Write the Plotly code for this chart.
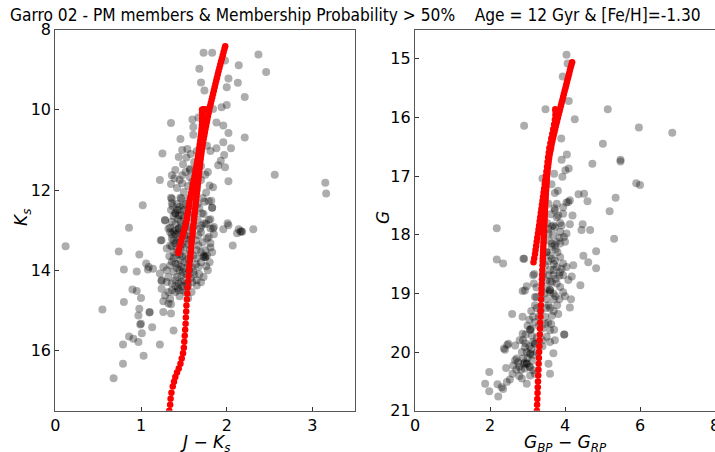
import plotly.graph_objects as go

# ---------------- data ----------------
# Left panel: colour-magnitude diagram, members (J-Ks, Ks)
left_members = [
    (1.73,8.58),(1.83,8.58),(2.37,8.62),(1.98,8.77),(2.14,8.89),(2.46,9.06),(1.68,8.98),
    (2.02,9.22),(1.70,9.32),(2.13,9.33),(2.00,9.44),(1.74,9.52),(2.21,9.68),(2.00,9.88),
    (1.94,9.94),(1.84,9.98),(1.67,10.19),(1.60,10.24),(1.73,10.18),(1.35,10.33),(1.88,10.32),
    (1.61,10.43),(1.96,10.39),(2.02,10.58),(1.61,10.62),(2.21,10.69),(1.46,10.73),(1.96,10.81),
    (1.48,11.0),(1.54,10.98),(1.77,10.9),(1.88,10.96),(2.05,10.96),(1.81,11.03),(1.25,11.09),
    (1.65,11.03),(1.97,11.13),(1.44,11.18),(1.53,11.19),(1.93,11.27),(1.49,11.36),(1.90,11.38),
    (1.98,11.43),(1.57,11.47),(2.56,11.62),(3.15,11.82),(3.16,12.09),(2.02,11.78),(1.22,11.75),
    (1.02,12.38),(1.36,11.63),(1.39,11.71),(1.48,11.63),(1.48,11.83),(1.57,11.68),(1.57,11.5),
    (1.75,11.62),(1.80,11.89),(1.84,11.93),(1.76,12.06),(1.35,12.19),(1.47,12.21),(1.36,12.33),
    (1.82,12.27),(1.49,12.38),(1.42,12.5),(1.83,12.44),(1.71,12.58),(1.44,12.63),(1.28,12.76),
    (1.81,12.73),(1.74,12.83),(2.01,12.83),(0.86,12.94),(1.34,12.94),(1.84,12.96),(1.96,12.98),
    (2.14,12.98),(2.17,13.03),(2.31,12.98),(1.79,13.17),(1.23,13.25),(2.07,13.38),(1.81,13.43),
    (0.74,13.53),(0.98,13.61),(1.30,13.46),(1.73,13.63),(0.12,13.4),(0.80,13.98),(0.95,14.03),
    (1.06,13.83),(1.09,13.92),(1.08,13.98),(1.14,13.96),(0.90,14.48),(0.95,14.52),(1.00,14.69),
    (0.80,14.79),(0.55,14.98),(0.98,14.96),(0.97,15.13),(1.10,15.04),(1.10,15.05),(1.26,15.04),
    (1.35,15.08),(1.26,14.77),(1.32,14.83),(1.00,15.33),(0.99,15.35),(1.01,15.57),(1.13,15.42),
    (1.38,15.5),(0.86,15.65),(0.91,15.71),(0.97,15.79),(0.79,15.85),(1.22,15.85),(1.03,16.13),
    (0.79,16.33),(0.68,16.69),(1.24,14.27),(1.28,12.75),(2.02,12.88),(2.12,13.08),(2.16,13.04),
    (2.18,13.04),(1.85,12.92),(1.81,13.33),(1.75,13.67),(1.75,13.67),
    (1.36,12.22),(1.46,12.19),(1.55,12.22),(1.74,12.29),(1.79,12.28),(1.83,12.44),(1.44,12.5),
    (1.47,12.63),(1.40,12.58),(1.40,12.58),(1.36,12.79),(1.79,12.75),(1.71,12.88),(1.81,12.96),
    (1.32,12.96),(1.38,13.04),(1.44,12.96),(1.44,12.96),(1.24,13.25),(1.36,13.21),(1.40,13.33),
    (1.34,13.38),(1.42,13.46),(1.77,13.21),(1.75,13.5),(1.67,13.38),(1.67,13.13),(1.61,13.63),
    (1.65,13.71),(1.73,13.67),(1.77,13.63),(1.46,13.75),(1.51,13.79),(1.40,13.83),(1.34,13.88),
    (1.47,13.92),(1.26,13.92),(1.22,14.08),(1.38,14.04),(1.42,14.17),(1.32,14.17),(1.47,14.13),
    (1.36,14.33),(1.44,14.33),(1.30,14.29),(1.24,14.25),(1.61,14.04),(1.65,14.25),(1.73,14.17),
    (1.65,14.38),(1.59,13.92),(1.67,13.92),(1.24,14.46),(1.28,14.63),(1.34,14.71),(1.32,14.54),
    (1.40,14.54),(1.44,14.5),(1.49,14.5),(1.59,14.54),(1.55,14.38),
    (1.38,12.65),(1.43,12.72),(1.50,12.70),(1.52,12.85),(1.47,12.9),(1.40,13.0),(1.49,13.05),
    (1.55,13.0),(1.45,13.15),(1.52,13.2),(1.58,13.15),(1.42,13.28),(1.48,13.35),(1.55,13.35),
    (1.38,13.55),(1.45,13.6),(1.52,13.6),(1.57,13.5),(1.38,13.7),(1.43,13.85),(1.55,13.85),
    (1.50,13.95),(1.45,14.0),(1.53,14.1),(1.58,14.2),(1.50,14.25),(1.40,14.4),(1.48,14.4),
    (1.35,12.5),(1.50,12.5),(1.62,12.6),(1.66,12.75),(1.62,12.9),(1.70,13.05),(1.72,13.3),
    (1.65,13.5),(1.70,13.8),(1.62,14.1),(1.70,14.3),(1.78,14.0),(1.80,13.8),(1.40,13.1),
    (1.33,13.65),(1.30,14.0),(1.36,14.5),(1.45,14.65),(1.55,14.7),(1.35,14.85),(1.40,12.85),
    (1.58,12.4),(1.52,12.35),(1.42,12.35),(1.68,12.45),(1.72,12.2),(1.65,12.0),(1.55,11.9),
    (1.42,11.95),(1.35,11.85),(1.60,11.8),(1.70,11.75),(1.78,11.55),(1.40,11.5),(1.62,11.3),
    (1.70,11.4),(1.58,11.1),(1.85,13.1),(1.83,13.55),(1.76,13.9),(1.36,13.1),(1.46,13.45),
    (1.37,12.40),(1.45,12.42),(1.53,12.55),(1.58,12.68),(1.46,12.78),(1.56,12.92),(1.34,13.05),
    (1.43,13.08),(1.51,13.12),(1.56,13.25),(1.38,13.25),(1.45,13.30),(1.50,13.42),(1.36,13.40),
    (1.41,13.62),(1.48,13.66),(1.55,13.72),(1.36,13.78),(1.42,13.95),(1.49,14.05),(1.56,14.00),
    (1.40,14.25),(1.47,14.30),(1.53,14.35),(1.43,14.45),(1.52,14.55),(1.60,14.30),(1.68,14.10),
    (1.64,13.85),(1.70,13.55),(1.64,13.25),(1.69,12.95),(1.76,12.85),(1.73,12.60),(1.66,12.35),
    (1.50,12.05),(1.45,11.75),(1.52,11.55),
]

# Right panel: Gaia colour-magnitude diagram, members (BP-RP, G)
right_members = [
    (4.04,14.93),(4.07,15.08),(3.94,15.30),(4.10,15.72),(3.48,15.86),(5.14,15.86),(4.26,16.03),
    (2.91,16.14),(5.97,16.17),(6.86,16.26),(3.90,16.36),(5.01,16.45),(3.61,16.54),(4.05,16.63),
    (3.91,16.72),(5.48,16.72),(5.48,16.75),(4.73,16.79),(4.10,16.87),(4.01,16.90),(3.71,16.96),
    (3.40,17.04),(3.93,17.01),(5.90,17.12),(6.00,17.15),(3.64,17.14),(3.81,17.25),(3.73,17.29),
    (4.36,17.31),(4.51,17.30),(5.35,17.37),(4.60,17.43),(4.13,17.41),(4.04,17.45),(3.72,17.55),
    (3.95,17.53),(5.19,17.60),(2.18,17.89),(3.78,17.47),(4.20,17.67),
    (4.47,17.82),(4.67,17.92),(4.44,17.92),(4.13,17.82),(3.91,17.84),(3.69,17.84),(4.83,18.28),
    (4.49,18.36),(4.62,18.47),(4.83,18.57),(4.22,18.52),(4.41,18.86),(2.18,18.42),(2.35,18.49),
    (2.91,18.41),(2.89,18.41),(3.18,18.67),(2.98,18.88),(2.87,18.96),(4.16,19.10),(4.13,19.24),
    (2.59,19.35),(2.87,19.40),(3.98,19.70),(3.98,19.70),(5.31,18.07),
    (3.56,17.47),(3.73,17.58),(3.82,17.67),(3.95,17.64),(4.09,17.44),(3.87,17.80),(3.73,17.87),
    (3.65,17.86),(3.56,17.98),(3.87,17.95),(3.97,18.04),(4.04,17.98),(3.78,18.12),(3.87,18.15),
    (3.65,18.21),(3.73,18.18),(4.00,18.12),(3.51,18.30),(3.51,18.30),(3.60,18.35),(3.65,18.41),
    (3.73,18.44),(3.87,18.38),(3.95,18.49),(3.47,18.52),(3.78,18.55),(3.91,18.58),(4.04,18.55),
    (3.42,18.67),(3.56,18.69),(3.69,18.69),(3.87,18.64),(3.95,18.69),(4.18,18.71),(4.09,18.77),
    (3.51,18.78),(3.65,18.81),(3.78,18.83),(3.51,18.92),(3.60,18.94),(3.60,18.94),(3.87,18.89),
    (3.95,18.98),(3.69,19.00),(3.24,19.06),(3.15,18.69),(3.17,18.83),(3.24,18.90),(2.93,18.95),
    (3.20,19.06),(3.60,18.98),(4.00,19.05),(3.56,19.20),(3.79,19.20),(3.82,19.35),(3.65,19.38),
    (3.15,19.40),(3.20,19.49),(3.47,19.40),(3.47,19.52),(3.63,19.52),(3.07,19.62),(3.07,19.62),
    (3.60,19.63),(3.71,19.62),(2.87,19.69),(2.79,19.80),(2.88,19.80),(3.15,19.83),(3.20,19.86),
    (3.20,19.86),(3.51,19.74),(3.60,19.83),(3.73,19.80),(2.49,19.86),(2.40,19.96),(2.67,19.89),
    (2.93,19.92),(2.98,20.00),(3.07,20.03),(3.07,20.03),(3.69,20.02),(2.71,20.11),(2.88,20.11),
    (2.67,20.14),(2.75,20.18),(2.93,20.18),(2.98,20.20),(2.98,20.20),(2.62,20.23),(2.83,20.30),
    (2.93,20.28),(3.07,20.26),(3.15,20.31),(3.56,20.20),(3.60,20.37),(2.43,20.27),(2.53,20.47),
    (2.45,20.51),(2.31,20.60),(2.35,20.63),(1.98,20.34),(1.87,20.54),(1.98,20.67),(2.22,20.76),
    (2.98,20.54),(3.07,20.40),(3.20,20.37),(2.20,20.55),(2.60,20.37),(2.78,20.41),(2.37,19.94),
    (2.46,19.88),
    (3.25,19.25),(3.35,19.30),(3.10,19.30),(3.30,19.55),(3.40,19.60),(3.00,19.55),(3.12,19.72),
    (3.25,19.75),(2.95,19.70),(3.05,19.90),(3.15,20.05),(2.85,20.00),(3.00,20.10),(3.12,20.15),
    (2.78,20.25),(3.40,19.90),(3.55,19.50),(3.70,19.10),(3.50,19.10),(3.45,19.00),(3.60,18.60),
    (3.70,18.50),(3.75,18.75),(3.80,18.30),(3.58,18.10),(3.68,18.00),(3.78,17.70),(3.62,17.65),
    (3.52,17.80),
    (3.30,19.40),(3.20,19.20),(3.05,19.45),(2.95,19.85),(3.10,19.95),(2.90,20.20),(3.05,20.25),
    (2.70,20.30),(2.85,20.45),(3.50,19.25),(3.60,19.25),(3.70,19.30),(3.75,19.05),(3.85,19.10),
    (3.60,18.80),(3.70,18.60),(3.85,18.70),(3.55,18.45),(3.75,18.25),(3.65,18.15),(3.85,18.05),
    (3.55,17.90),(3.40,19.80),(3.25,20.00),(3.10,19.60),
]

# Isochrone (12 Gyr, [Fe/H]=-1.30), (J-Ks, Ks): RGB then AGB
iso_left_rgb = [
    (1.33,17.50),(1.34,17.35),(1.345,17.20),(1.355,17.05),(1.37,16.90),(1.385,16.78),(1.40,16.66),
    (1.42,16.55),(1.44,16.45),(1.46,16.33),(1.475,16.20),(1.49,16.07),(1.50,15.93),(1.505,15.78),
    (1.51,15.63),(1.515,15.48),(1.52,15.33),(1.523,15.18),(1.527,15.03),(1.53,14.88),(1.535,14.73),
    (1.54,14.58),(1.545,14.43),(1.55,14.28),(1.555,14.14),(1.56,14.00),(1.565,13.88),(1.57,13.76),
    (1.575,13.68),(1.578,13.60),(1.582,13.52),(1.585,13.44),(1.588,13.36),(1.592,13.28),(1.595,13.20),
    (1.600,13.12),(1.603,13.04),(1.607,12.96),(1.611,12.88),(1.615,12.80),(1.619,12.72),(1.623,12.64),
    (1.627,12.56),(1.631,12.48),(1.635,12.40),(1.639,12.32),(1.643,12.24),(1.647,12.16),(1.651,12.08),
    (1.655,12.00),(1.660,11.92),(1.664,11.84),(1.668,11.76),(1.672,11.68),(1.676,11.60),(1.680,11.52),
    (1.684,11.44),(1.688,11.36),(1.692,11.28),(1.697,11.20),(1.702,11.12),(1.707,11.04),(1.712,10.96),
    (1.718,10.88),(1.724,10.80),(1.731,10.72),(1.738,10.64),(1.745,10.56),(1.752,10.48),(1.759,10.40),
    (1.766,10.32),(1.773,10.24),(1.780,10.16),(1.788,10.08),(1.796,10.00),(1.805,9.92),(1.814,9.84),
    (1.823,9.76),(1.832,9.68),(1.841,9.60),(1.850,9.52),(1.859,9.44),(1.868,9.36),(1.877,9.28),
    (1.886,9.20),(1.895,9.12),(1.904,9.04),(1.914,8.96),(1.924,8.88),(1.934,8.80),(1.944,8.72),
    (1.954,8.64),(1.964,8.56),(1.974,8.48),(1.982,8.42),
]
iso_left_agb = [
    (1.435,13.57),(1.44,13.50),(1.45,13.42),(1.46,13.34),(1.47,13.26),(1.48,13.18),(1.49,13.10),
    (1.50,13.02),(1.51,12.94),(1.52,12.86),(1.53,12.78),(1.535,12.70),(1.54,12.62),(1.55,12.54),
    (1.555,12.46),(1.56,12.38),(1.565,12.30),(1.572,12.22),(1.58,12.14),(1.587,12.06),(1.595,11.98),
    (1.602,11.90),(1.61,11.82),(1.618,11.74),(1.625,11.66),(1.632,11.58),(1.638,11.50),(1.645,11.42),
    (1.652,11.34),(1.658,11.26),(1.664,11.18),(1.67,11.10),(1.676,11.02),(1.681,10.94),(1.686,10.86),
    (1.691,10.78),(1.696,10.70),(1.700,10.62),(1.704,10.54),(1.708,10.46),(1.711,10.38),(1.713,10.30),
    (1.714,10.22),(1.714,10.14),(1.713,10.06),(1.712,10.00),(1.725,9.99),(1.74,9.99),(1.755,10.00),
    (1.77,10.00),
]

# Isochrone, (BP-RP, G): RGB then AGB
iso_right_rgb = [
    (3.25,21.00),(3.256,20.90),(3.262,20.80),(3.268,20.70),(3.274,20.60),(3.28,20.50),(3.286,20.40),
    (3.292,20.30),(3.298,20.20),(3.304,20.10),(3.31,20.00),(3.316,19.90),(3.322,19.80),(3.328,19.70),
    (3.334,19.60),(3.34,19.50),(3.346,19.40),(3.352,19.30),(3.358,19.20),(3.364,19.10),(3.37,19.00),
    (3.375,18.92),(3.38,18.84),(3.385,18.76),(3.39,18.68),(3.395,18.60),(3.40,18.52),
    (3.405,18.45),(3.408,18.40),(3.412,18.35),(3.415,18.30),(3.419,18.25),(3.422,18.20),(3.426,18.15),
    (3.429,18.10),(3.433,18.05),(3.436,18.00),(3.44,17.95),(3.443,17.90),(3.447,17.85),(3.45,17.80),
    (3.454,17.75),(3.457,17.70),(3.461,17.65),(3.464,17.60),(3.467,17.55),(3.47,17.50),(3.475,17.45),
    (3.48,17.40),(3.485,17.35),(3.49,17.30),(3.495,17.25),(3.50,17.20),(3.505,17.15),(3.51,17.10),
    (3.515,17.05),(3.52,17.00),(3.527,16.95),(3.535,16.90),(3.544,16.85),(3.553,16.80),(3.563,16.75),
    (3.574,16.70),(3.585,16.65),(3.597,16.60),(3.613,16.55),(3.63,16.50),(3.645,16.45),(3.662,16.40),
    (3.68,16.35),(3.698,16.30),(3.716,16.25),(3.734,16.20),(3.753,16.15),(3.772,16.10),(3.791,16.05),
    (3.81,16.00),(3.83,15.95),(3.85,15.90),(3.87,15.85),(3.89,15.80),(3.91,15.75),(3.93,15.70),
    (3.95,15.65),(3.97,15.60),(3.99,15.55),(4.01,15.50),(4.03,15.45),(4.05,15.40),(4.07,15.35),
    (4.09,15.30),(4.11,15.25),(4.13,15.20),(4.15,15.15),(4.17,15.10),(4.19,15.06),
]
iso_right_agb = [
    (3.16,18.47),(3.18,18.40),(3.20,18.33),(3.215,18.26),(3.23,18.19),(3.245,18.12),(3.26,18.05),
    (3.28,17.98),(3.295,17.91),(3.31,17.84),(3.325,17.77),(3.34,17.70),(3.355,17.63),(3.37,17.56),
    (3.385,17.49),(3.40,17.42),(3.415,17.35),(3.43,17.28),(3.445,17.21),(3.46,17.14),(3.475,17.07),
    (3.49,17.00),(3.505,16.92),(3.52,16.84),(3.535,16.76),(3.55,16.68),(3.567,16.60),(3.585,16.52),
    (3.61,16.44),(3.635,16.36),(3.66,16.28),(3.685,16.20),(3.71,16.12),(3.73,16.04),(3.745,15.96),
    (3.75,15.90),(3.74,15.86),(3.77,15.88),(3.80,15.89),
]

title_text = ("Garro 02 - PM members & Membership Probability > 50%"
              "\u00a0\u00a0\u00a0\u00a0Age = 12 Gyr & [Fe/H]=-1.30")
left_xticks = [0, 1, 2, 3]
left_yticks = [8, 10, 12, 14, 16]
right_xticks = [0, 2, 4, 6, 8]
right_yticks = [15, 16, 17, 18, 19, 20, 21]

# ---------------- figure ----------------
W, H = 715, 452
FONT = "DejaVu Sans"
TITLE_FONT = "DejaVu Sans Condensed, Liberation Sans Narrow, DejaVu Sans"

def xs(pts):
    return [p[0] for p in pts]

def ys(pts):
    return [p[1] for p in pts]

gray = dict(color="black", opacity=0.32, size=8, line=dict(width=0))
red = dict(color="red", size=6.5, line=dict(width=0))

fig = go.Figure()
fig.add_trace(go.Scatter(x=xs(left_members), y=ys(left_members), mode="markers",
                         marker=gray, xaxis="x", yaxis="y", showlegend=False))
iso_l = iso_left_rgb + iso_left_agb
fig.add_trace(go.Scatter(x=xs(iso_l), y=ys(iso_l), mode="markers",
                         marker=red, xaxis="x", yaxis="y", showlegend=False))
fig.add_trace(go.Scatter(x=xs(right_members), y=ys(right_members), mode="markers",
                         marker=gray, xaxis="x2", yaxis="y2", showlegend=False))
iso_r = iso_right_rgb + iso_right_agb
fig.add_trace(go.Scatter(x=xs(iso_r), y=ys(iso_r), mode="markers",
                         marker=red, xaxis="x2", yaxis="y2", showlegend=False))

y_dom = [(H - 410.7) / H, (H - 29.5) / H]
axis_common = dict(showline=True, mirror=True, linecolor="#555555", linewidth=1.2,
                   ticks="inside", ticklen=4, tickwidth=1, tickcolor="#333333",
                   showgrid=False, zeroline=False, ticklabeloverflow="allow",
                   automargin=False,
                   tickfont=dict(family=FONT, size=16, color="black"))

label_font = dict(family=FONT, size=17, color="black")

fig.update_layout(
    width=W, height=H, autosize=False,
    margin=dict(l=0, r=0, t=0, b=0, autoexpand=False),
    paper_bgcolor="white", plot_bgcolor="white",
    xaxis=dict(domain=[55.3 / W, 355.3 / W], range=[0, 3.5], tickvals=left_xticks,
               anchor="y", ticklabelstandoff=0, **axis_common),
    yaxis=dict(domain=y_dom, range=[17.5, 8], tickvals=left_yticks, anchor="x",
               **axis_common),
    xaxis2=dict(domain=[415 / W, 1.0], range=[0, 8], tickvals=right_xticks,
                anchor="y2", ticklabelstandoff=0, **axis_common),
    yaxis2=dict(domain=y_dom, range=[21, 14.5], tickvals=right_yticks, anchor="x2",
                **axis_common),
    annotations=[
        dict(text=title_text, x=8 / W, y=1 - 15 / H, xref="paper", yref="paper",
             xanchor="left", yanchor="middle", showarrow=False,
             font=dict(family=TITLE_FONT, size=17.2, color="black")),
        dict(text="<i>K</i><sub><i>s</i></sub>", x=22 / W, y=1 - 218 / H,
             xref="paper", yref="paper", xanchor="center", yanchor="middle",
             textangle=-90, showarrow=False, font=label_font),
        dict(text="<i>J</i> \u2212 <i>K</i><sub><i>s</i></sub>", x=205 / W, y=1 - 456 / H,
             xref="paper", yref="paper", xanchor="center", yanchor="bottom",
             borderpad=0, showarrow=False, font=label_font),
        dict(text="<i>G</i>", x=383 / W, y=1 - 218 / H,
             xref="paper", yref="paper", xanchor="center", yanchor="middle",
             textangle=-90, showarrow=False, font=label_font),
        dict(text="<i>G</i><sub><i>BP</i></sub> \u2212 <i>G</i><sub><i>RP</i></sub>",
             x=565 / W, y=1 - 456 / H, xref="paper", yref="paper",
             xanchor="center", yanchor="bottom", borderpad=0, showarrow=False,
             font=label_font),
    ],
)

fig.write_html("out.html")
